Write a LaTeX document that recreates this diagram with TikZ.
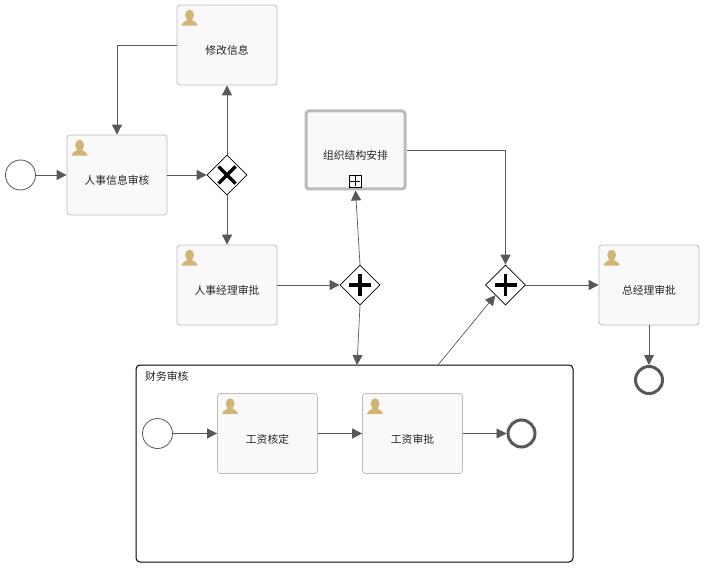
\documentclass[tikz,border=0pt]{standalone}
\usepackage{fontspec}
\setmainfont{Noto Sans CJK SC}
\usetikzlibrary{positioning}
\usetikzlibrary{shapes.geometric}
\usetikzlibrary{arrows.meta}
\definecolor{flowgray}{HTML}{585858}
\definecolor{boxgray}{HTML}{BBBBBB}
\definecolor{boxfill}{HTML}{F9F9F9}
\definecolor{icontan}{HTML}{D1B574}
\tikzset{
   task/.style = {%
    shape=rectangle,
    rounded corners=3pt,
    draw=boxgray,
    fill=boxfill,
    line width=0.8pt,
    inner sep=0pt,
    minimum width=100pt,
    minimum height=80pt},
 tasktext/.style = {%
    yshift=-5.5pt,
    inner sep=0pt,
    text=black!85,
    font=\fontsize{10.8}{10.8}\selectfont},
 subtask/.style = {%
    task,
    line width=3pt,
    minimum width=99pt,
    minimum height=78pt},
 startev/.style = {%
    shape=circle,
    draw=flowgray,
    fill=white,
    line width=0.8pt,
    inner sep=0pt,
    minimum size=30pt},
 endev/.style = {%
    shape=circle,
    draw=flowgray,
    fill=white,
    line width=3pt,
    inner sep=0pt,
    minimum size=27pt},
 gateway/.style = {%
    shape=diamond,
    draw=black,
    fill=white,
    line width=0.8pt,
    inner sep=0pt,
    minimum size=40pt},
 gwmark/.style = {%
    draw=black,
    line width=3.5pt},
 arrow/.style = {%
    draw=flowgray,
    line width=0.9pt,
    -{Triangle[length=10pt,width=10pt]}},
 thinarrow/.style = {%
    arrow,
    line width=0.7pt},
 pool/.style = {%
    shape=rectangle,
    rounded corners=4pt,
    draw=black,
    line width=1pt,
    inner sep=0pt,
    minimum width=437pt,
    minimum height=197pt},
 expandbox/.style = {%
    shape=rectangle,
    draw=black,
    fill=white,
    line width=0.7pt,
    inner sep=0pt,
    minimum size=12pt},
    }
\begin{document}
\begin{tikzpicture}[x=1pt,y=-1pt]
    \useasboundingbox (0,0) rectangle (709,572);
    % containers first
    \node[pool] (finance) at (354.5,463.5) {};
    \node[anchor=west, tasktext, yshift=5.5pt] (financetitle) at (145,376) {财务审核};
    \coordinate (financein) at (357,365);
    \coordinate (financeout) at (438,365);
    % upper flow
    \node[startev] (start) at (20.5,175) {};
    \node[task, label={[tasktext]center:人事信息审核}] (review) at (117,175) {};
    \node[gateway] (choice) at (227,175) {};
    \node[task, label={[tasktext]center:修改信息}] (modify) at (227,45) {};
    \node[task, label={[tasktext]center:人事经理审批}] (manager) at (227,285) {};
    \node[gateway] (forka) at (360,285) {};
    \node[subtask, label={[tasktext]center:组织结构安排}] (organize) at (355.5,150) {};
    \node[expandbox] (expand) at (355,181) {};
    \node[gateway] (joina) at (505.5,285) {};
    \node[task, label={[tasktext]center:总经理审批}] (ceo) at (649,285) {};
    \node[endev] (finish) at (649,380) {};
    % inside the finance box
    \node[startev] (innerstart) at (157.5,433.5) {};
    \node[task, label={[tasktext]center:工资核定}] (salary) at (267.5,433.5) {};
    \node[task, label={[tasktext]center:工资审批}] (approve) at (412.5,433.5) {};
    \node[endev] (innerend) at (521.5,433.5) {};
    % markers
    \draw[gwmark] ([shift={(-8.5pt,8.5pt)}]choice.center) -- ([shift={(8.5pt,-8.5pt)}]choice.center);
    \draw[gwmark] ([shift={(-8.5pt,-8.5pt)}]choice.center) -- ([shift={(8.5pt,8.5pt)}]choice.center);
    \foreach \g in {forka,joina} {
        \draw[gwmark] ([xshift=-11pt]\g.center) -- ([xshift=11pt]\g.center);
        \draw[gwmark] ([yshift=-11pt]\g.center) -- ([yshift=11pt]\g.center);
    }
    \draw[line width=0.7pt, shorten >=1.5pt, shorten <=1.5pt] (expand.west) -- (expand.east);
    \draw[line width=0.7pt, shorten >=1.5pt, shorten <=1.5pt] (expand.north) -- (expand.south);
    % user icons
    \foreach \t in {review,modify,manager,ceo,salary,approve} {
        \begin{scope}[shift={(\t.north west)}]
            \fill[icontan] (13,10.5) ellipse (4.4 and 5.4);
            \fill[icontan] (5,21) .. controls (5.5,17) and (10,17) .. (11,14.5)
                -- (15,14.5) .. controls (16,17) and (20.5,17) .. (21,21) -- cycle;
        \end{scope}
    }
    % flows
    \draw[arrow] (start) -- (review);
    \draw[arrow] (review) -- (choice);
    \draw[arrow] (choice) -- (modify);
    \draw[arrow] (choice) -- (manager);
    \draw[arrow] (modify.west) -| (review.north);
    \draw[arrow] (manager) -- (forka);
    \draw[thinarrow] (forka.north) -- (organize.south);
    \draw[thinarrow] (forka.south) -- (financein);
    \draw[arrow] (organize.east) -| (joina.north);
    \draw[thinarrow] (financeout) -- (joina.south west);
    \draw[arrow] (joina) -- (ceo);
    \draw[arrow] (ceo) -- (finish);
    \draw[arrow] (innerstart) -- (salary);
    \draw[arrow] (salary) -- (approve);
    \draw[arrow] (approve) -- (innerend);
\end{tikzpicture}
\end{document}
